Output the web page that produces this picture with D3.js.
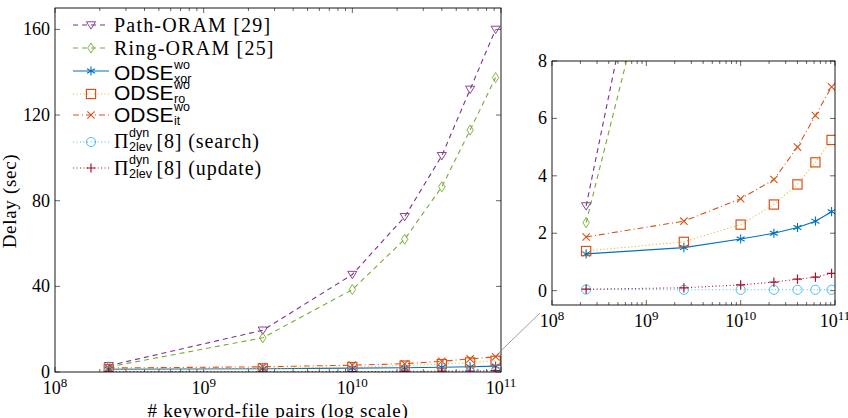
<!DOCTYPE html>
<html>
<head>
<meta charset="utf-8">
<script src="https://cdn.jsdelivr.net/npm/d3@7"></script>
<style>
  body { margin: 0; background: #fff; }
  svg { display: block; }
  .serif { font-family: "Liberation Serif", "DejaVu Serif", serif; }
  .sans { font-family: "Liberation Sans", "DejaVu Sans", sans-serif; }
</style>
</head>
<body>
<svg id="chart" width="848" height="418"></svg>
<script>
// data
var pairs = [2.3e8, 2.5e9, 1e10, 2.25e10, 4e10, 6.2e10, 9.2e10];
var pathOram = [2.95, 19.5, 45.5, 72.5, 101, 132, 160];
var ringOram = [2.37, 16, 38.5, 62, 86.5, 113, 137.5];
var odseXor = [1.28, 1.5, 1.8, 2.0, 2.2, 2.42, 2.75];
var odseRo = [1.38, 1.7, 2.3, 3.0, 3.7, 4.47, 5.25];
var odseIt = [1.87, 2.42, 3.2, 3.87, 5.0, 6.1, 7.1];
var piSearch = [0.04, 0.03, 0.03, 0.03, 0.03, 0.03, 0.03];
var piUpdate = [0.05, 0.1, 0.2, 0.3, 0.4, 0.47, 0.6];

var mainTicks = [0, 40, 80, 120, 160];
var insetTicks = [0, 2, 4, 6, 8];
var decades = [8, 9, 10, 11];

var series = [
  {key: "path", values: pathOram, line: "#7E2F8E", mark: "#7E2F8E", dash: "5,4", shape: "tri"},
  {key: "ring", values: ringOram, line: "#77AC30", mark: "#77AC30", dash: "5,4", shape: "diamond"},
  {key: "xor", values: odseXor, line: "#0072BD", mark: "#0072BD", dash: null, shape: "star"},
  {key: "ro", values: odseRo, line: "#EDB120", mark: "#D95319", dash: "1,2.5", shape: "square"},
  {key: "it", values: odseIt, line: "#D95319", mark: "#D95319", dash: "6,3,1,3", shape: "cross"},
  {key: "search", values: piSearch, line: "#4DBEEE", mark: "#4DBEEE", dash: "1,2.5", shape: "circle"},
  {key: "update", values: piUpdate, line: "#A2142F", mark: "#A2142F", dash: "1,2.5", shape: "plus"}
];

var svg = d3.select("#chart");

function drawMarker(g, shape, x, y, color) {
  var s = 4.6;
  if (shape == "tri") {
    g.append("path").attr("d", `M${x - s},${y - s * 0.7}L${x + s},${y - s * 0.7}L${x},${y + s * 0.9}Z`)
      .attr("fill", "none").attr("stroke", color).attr("stroke-width", 0.9);
  } else if (shape == "diamond") {
    g.append("path").attr("d", `M${x},${y - s * 1.1}L${x + s * 0.7},${y}L${x},${y + s * 1.1}L${x - s * 0.7},${y}Z`)
      .attr("fill", "none").attr("stroke", color).attr("stroke-width", 0.9);
  } else if (shape == "square") {
    g.append("rect").attr("x", x - s).attr("y", y - s).attr("width", 2 * s).attr("height", 2 * s)
      .attr("fill", "none").attr("stroke", color).attr("stroke-width", 1.2);
  } else if (shape == "circle") {
    g.append("circle").attr("cx", x).attr("cy", y).attr("r", s)
      .attr("fill", "none").attr("stroke", color).attr("stroke-width", 1);
  } else if (shape == "cross") {
    var c = s * 0.8;
    g.append("path").attr("d", `M${x - c},${y - c}L${x + c},${y + c}M${x - c},${y + c}L${x + c},${y - c}`)
      .attr("stroke", color).attr("stroke-width", 1.1);
  } else if (shape == "plus") {
    g.append("path").attr("d", `M${x - s},${y}L${x + s},${y}M${x},${y - s}L${x},${y + s}`)
      .attr("stroke", color).attr("stroke-width", 1.2);
  } else if (shape == "star") {
    var d = "";
    for (var k = 0; k < 3; k++) {
      var a = Math.PI / 2 + k * Math.PI / 3;
      d += `M${x - s * Math.cos(a)},${y - s * Math.sin(a)}L${x + s * Math.cos(a)},${y + s * Math.sin(a)}`;
    }
    g.append("path").attr("d", d).attr("stroke", color).attr("stroke-width", 1.1);
  }
}

function supLabel(g, x, y, base, exp) {
  var t = g.append("text").attr("class", "serif").attr("x", x).attr("y", y)
    .attr("font-size", 18).attr("text-anchor", "middle");
  t.append("tspan").text(base);
  t.append("tspan").attr("font-size", 13).attr("dy", -7).text(exp);
  return t;
}

// draws one panel: frame, ticks, lines and markers
function panel(id, left, top, width, height, yDomain, yTicks, minorLen) {
  var x = d3.scaleLog().domain([1e8, 1e11]).range([left, left + width]);
  var y = d3.scaleLinear().domain(yDomain).range([top + height, top]);
  var g = svg.append("g").attr("class", id);

  g.append("clipPath").attr("id", "clip-" + id)
    .append("rect").attr("x", left).attr("y", top).attr("width", width).attr("height", height);

  var minors = [];
  for (var e = 8; e < 11; e++) for (var m = 2; m < 10; m++) minors.push(m * Math.pow(10, e));

  var ax = g.append("g").attr("stroke", "#000").attr("stroke-width", 0.6);
  // x ticks (inward, bottom + top)
  decades.forEach(function(dd) {
    var px = x(Math.pow(10, dd));
    ax.append("line").attr("x1", px).attr("x2", px).attr("y1", top + height).attr("y2", top + height - 5);
    ax.append("line").attr("x1", px).attr("x2", px).attr("y1", top).attr("y2", top + 5);
  });
  minors.forEach(function(v) {
    var px = x(v);
    ax.append("line").attr("x1", px).attr("x2", px).attr("y1", top + height).attr("y2", top + height - minorLen);
    ax.append("line").attr("x1", px).attr("x2", px).attr("y1", top).attr("y2", top + minorLen);
  });
  yTicks.forEach(function(v) {
    var py = y(v);
    ax.append("line").attr("x1", left).attr("x2", left + 5).attr("y1", py).attr("y2", py);
    ax.append("line").attr("x1", left + width).attr("x2", left + width - 5).attr("y1", py).attr("y2", py);
    g.append("text").attr("class", "serif").attr("x", left - 5).attr("y", py + 6)
      .attr("font-size", 18).attr("text-anchor", "end").text(v);
  });

  var plot = g.append("g").attr("clip-path", "url(#clip-" + id + ")");
  var line = d3.line()
    .x(function(d, i) { return x(pairs[i]); })
    .y(function(d) { return y(d); });

  series.forEach(function(s) {
    plot.append("path").attr("d", line(s.values))
      .attr("fill", "none").attr("stroke", s.line).attr("stroke-width", 1.1)
      .attr("stroke-dasharray", s.dash);
  });
  series.forEach(function(s) {
    s.values.forEach(function(v, i) {
      drawMarker(plot, s.shape, x(pairs[i]), y(v), s.mark);
    });
  });

  g.append("rect").attr("x", left).attr("y", top).attr("width", width).attr("height", height)
    .attr("fill", "none").attr("stroke", "#000").attr("stroke-width", 0.9);

  return {x: x, y: y, g: g};
}

var main = panel("main", 55, 8, 446, 364, [0, 170], mainTicks, 3);
decades.forEach(function(dd) {
  supLabel(main.g, main.x(Math.pow(10, dd)), 394, "10", dd);
});
main.g.append("text").attr("class", "serif").attr("x", 278).attr("y", 417)
  .attr("font-size", 19).attr("letter-spacing", 0.7).attr("text-anchor", "middle")
  .text("# keyword-file pairs (log scale)");
main.g.append("text").attr("class", "serif").attr("transform", "translate(16,201) rotate(-90)")
  .attr("font-size", 19).attr("letter-spacing", 0.7).attr("text-anchor", "middle").text("Delay (sec)");

var inset = panel("inset", 552, 61, 283, 244, [-0.5, 8], insetTicks, 3);
decades.forEach(function(dd) {
  supLabel(inset.g, inset.x(Math.pow(10, dd)), 327, "10", dd);
});

// connector from the zoomed spot to the inset
svg.append("line")
  .attr("x1", main.x(pairs[6])).attr("y1", main.y(7.5))
  .attr("x2", inset.x(1e8) - 12).attr("y2", inset.y(-0.5) + 8)
  .attr("stroke", "#888").attr("stroke-width", 0.8);

// legend: sample line y and text baseline for each row
var rowLine = [25, 48, 71, 94, 115, 142, 168];
var rowBase = [32, 55, 80, 100, 122, 148, 175];
var lg = svg.append("g").attr("class", "legend");
series.forEach(function(s, i) {
  var yy = rowLine[i];
  lg.append("line").attr("x1", 73).attr("x2", 109).attr("y1", yy).attr("y2", yy)
    .attr("stroke", s.line).attr("stroke-width", 1.1).attr("stroke-dasharray", s.dash);
  drawMarker(lg, s.shape, 91, yy, s.mark);
});

function plainEntry(i, txt) {
  lg.append("text").attr("class", "serif").attr("x", 114).attr("y", rowBase[i])
    .attr("font-size", 20).attr("letter-spacing", 1.2).text(txt);
}
function subsupEntry(i, base, baseClass, baseSize, sup, sub, tail) {
  var yy = rowBase[i];
  var b = lg.append("text").attr("class", baseClass).attr("x", 114).attr("y", yy)
    .attr("font-size", baseSize).text(base);
  var w = b.node().getComputedTextLength();
  var sp = lg.append("text").attr("class", "sans").attr("x", 114 + w + 0.5).attr("y", yy - 11)
    .attr("font-size", 12.5).text(sup);
  var sb = lg.append("text").attr("class", "sans").attr("x", 114 + w + 0.5).attr("y", yy + 3)
    .attr("font-size", 12.5).text(sub);
  var w2 = Math.max(sp.node().getComputedTextLength(), sb.node().getComputedTextLength());
  if (tail) {
    lg.append("text").attr("class", "serif").attr("x", 114 + w + w2 + 5).attr("y", yy)
      .attr("font-size", 20).attr("letter-spacing", 0.9).text(tail);
  }
}
plainEntry(0, "Path-ORAM [29]");
plainEntry(1, "Ring-ORAM [25]");
subsupEntry(2, "ODSE", "sans", 21, "wo", "xor", null);
subsupEntry(3, "ODSE", "sans", 21, "wo", "ro", null);
subsupEntry(4, "ODSE", "sans", 21, "wo", "it", null);
subsupEntry(5, "\u03A0", "serif", 20, "dyn", "2lev", "[8] (search)");
subsupEntry(6, "\u03A0", "serif", 20, "dyn", "2lev", "[8] (update)");
</script>
</body>
</html>
